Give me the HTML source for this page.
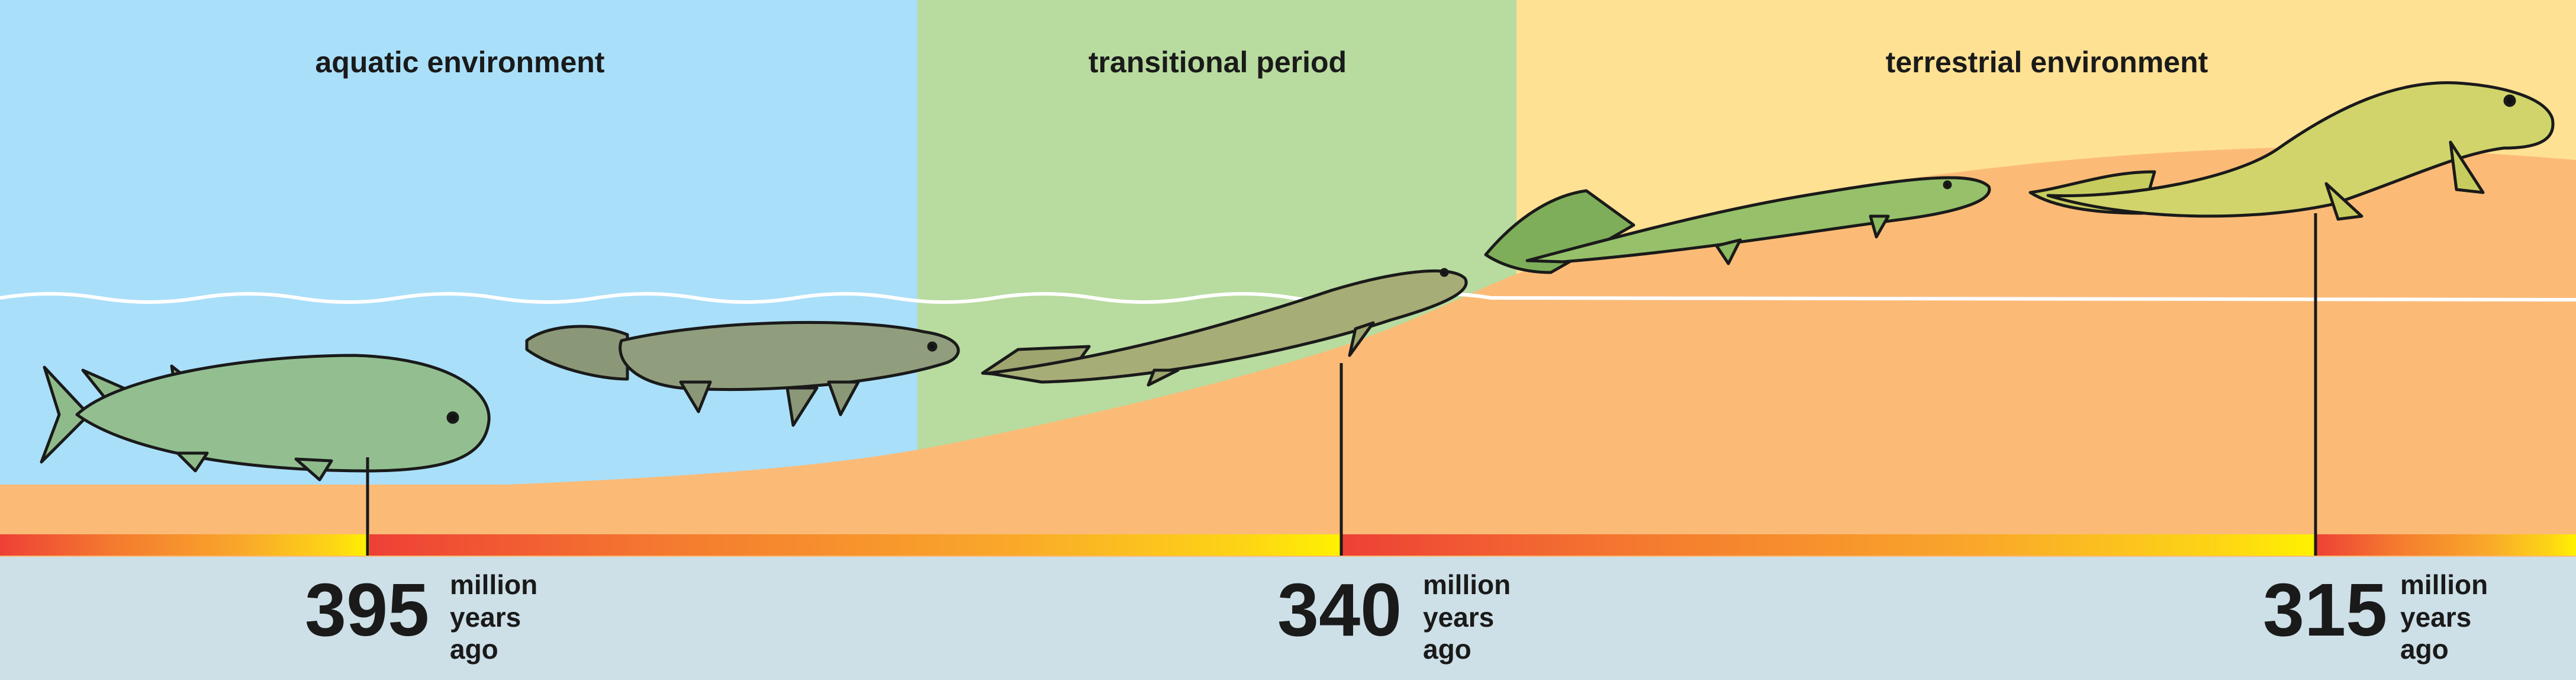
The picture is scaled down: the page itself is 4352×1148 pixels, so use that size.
<!DOCTYPE html>
<html><head><meta charset="utf-8">
<style>
html,body{margin:0;padding:0;width:4352px;height:1148px;overflow:hidden;background:#cddfe7}
svg{display:block}
text{font-family:"Liberation Sans Narrow","Liberation Sans",sans-serif;font-weight:bold;fill:#1a1a1a}
</style></head>
<body>
<svg width="4352" height="1148" viewBox="0 0 4352 1148">
<defs>
<linearGradient id="g" x1="0" x2="1" y1="0" y2="0">
<stop offset="0" stop-color="#ee4036"/><stop offset="0.3" stop-color="#f4792f"/><stop offset="0.65" stop-color="#f9a72b"/><stop offset="0.9" stop-color="#fdd515"/><stop offset="1" stop-color="#fff200"/>
</linearGradient>
</defs>
<rect x="0" y="0" width="1550" height="940" fill="#a9dff9"/>
<rect x="1550" y="0" width="1012" height="940" fill="#b8db9f"/>
<rect x="2562" y="0" width="1790" height="940" fill="#ffe194"/>
<path d="M0,818 L861,818 C1150,805 1400,790 1600,750 C1850,700 2100,640 2280,580 C2380,545 2440,515 2520,480 C2800,360 3300,260 3900,248 C4100,250 4250,262 4352,270 L4352,940 L0,940 Z" fill="#fbbb77"/>
<path d="M0,503 q84,-14 168,0 t168,0 t168,0 t168,0 t168,0 t168,0 t168,0 t168,0 t168,0 t168,0 t168,0 t168,0 t168,0 t168,0 t168,0 L4352,506" fill="none" stroke="#fff" stroke-width="6"/>

<text x="777" y="122" font-size="50" text-anchor="middle">aquatic environment</text>
<text x="2057" y="122" font-size="50" text-anchor="middle">transitional period</text>
<text x="3458" y="122" font-size="50" text-anchor="middle">terrestrial environment</text>

<g stroke="#1a1a1a" stroke-width="5" stroke-linejoin="round">
<path d="M75,620 L150,700 L70,780 L100,700 Z" fill="#8fbb8b"/>
<path d="M140,625 L220,660 L200,700 Z M290,618 L330,650 L300,680 Z" fill="#8fbb8b"/>
<path d="M130,700 C200,635 420,600 600,600 C760,605 830,660 826,710 C820,770 760,795 620,795 C420,795 220,765 130,700 Z" fill="#93bf90"/>
<path d="M500,775 L540,810 L560,778 Z M300,765 L330,795 L350,765 Z" fill="#8fbb8b"/>
<circle cx="765" cy="705" r="8" fill="#111"/>
</g>
<g stroke="#1a1a1a" stroke-width="5" stroke-linejoin="round">
<path d="M890,575 C930,545 1010,545 1060,565 L1060,640 C1010,640 930,620 890,590 Z" fill="#8a9878"/>
<path d="M1050,575 C1200,540 1450,535 1560,560 C1630,570 1630,600 1600,612 C1500,645 1300,665 1150,655 C1060,645 1040,600 1050,575 Z" fill="#909e7d"/>
<path d="M1150,645 L1180,695 L1200,645 Z M1330,655 L1340,718 L1380,655 Z M1400,645 L1420,700 L1450,645 Z" fill="#8a9878"/>
<circle cx="1575" cy="585" r="6" fill="#111"/>
</g>
<g stroke="#1a1a1a" stroke-width="5" stroke-linejoin="round">
<path d="M1660,630 L1720,590 L1840,585 L1800,640 Z" fill="#9ea56f"/>
<path d="M1670,630 C1900,600 2100,540 2250,490 C2350,460 2450,445 2475,470 C2490,495 2420,520 2350,540 C2200,590 1950,640 1760,645 Z" fill="#a7ad76"/>
<path d="M1950,625 L1940,650 L1990,625 Z M2290,555 L2280,600 L2320,545 Z" fill="#9ea56f"/>
<circle cx="2440" cy="460" r="5" fill="#111"/>
</g>
<g stroke="#1a1a1a" stroke-width="5" stroke-linejoin="round">
<path d="M2510,430 C2560,370 2620,330 2680,322 L2760,380 L2620,460 C2580,460 2540,450 2510,430 Z" fill="#7fae5a"/>
<path d="M2580,440 C2750,395 2900,355 3050,330 C3200,305 3330,285 3360,315 C3370,340 3300,360 3200,372 C3050,392 2850,425 2640,442 Z" fill="#96c16a"/>
<path d="M2900,415 L2920,445 L2940,405 Z M3160,365 L3170,400 L3190,365 Z" fill="#8cba60"/>
<circle cx="3290" cy="312" r="5" fill="#111"/>
</g>
<g stroke="#1a1a1a" stroke-width="5" stroke-linejoin="round">
<path d="M3430,325 C3500,315 3560,290 3640,290 L3620,360 C3540,360 3470,350 3430,325 Z" fill="#c7cc5e"/>
<path d="M3460,330 C3600,335 3780,300 3850,250 C3950,180 4050,135 4150,140 C4230,145 4300,165 4312,200 C4320,240 4280,250 4230,250 C4150,260 4060,305 3940,345 C3800,375 3600,372 3460,330 Z" fill="#d0d46b"/>
<path d="M3930,310 L3950,370 L3990,365 Z M4140,240 L4150,320 L4195,325 Z" fill="#c7cc5e"/>
<circle cx="4240" cy="170" r="8" fill="#111"/>
</g>

<rect x="0" y="902" width="624" height="36" fill="url(#g)"/>
<rect x="624" y="902" width="1644" height="36" fill="url(#g)"/>
<rect x="2268" y="902" width="1644" height="36" fill="url(#g)"/>
<rect x="3912" y="902" width="440" height="36" fill="url(#g)"/>

<line x1="621" y1="772" x2="621" y2="938" stroke="#1a1a1a" stroke-width="5"/>
<line x1="2266" y1="613" x2="2266" y2="938" stroke="#1a1a1a" stroke-width="5"/>
<line x1="3912" y1="360" x2="3912" y2="938" stroke="#1a1a1a" stroke-width="5"/>

<g>
<text x="515" y="1073" font-size="126">395</text>
<text x="760" y="1003" font-size="46">million</text>
<text x="760" y="1058" font-size="46">years</text>
<text x="760" y="1112" font-size="46">ago</text>
</g>
<g>
<text x="2158" y="1073" font-size="126">340</text>
<text x="2404" y="1003" font-size="46">million</text>
<text x="2404" y="1058" font-size="46">years</text>
<text x="2404" y="1112" font-size="46">ago</text>
</g>
<g>
<text x="3823" y="1073" font-size="126">315</text>
<text x="4055" y="1003" font-size="46">million</text>
<text x="4055" y="1058" font-size="46">years</text>
<text x="4055" y="1112" font-size="46">ago</text>
</g>
</svg>
</body></html>
